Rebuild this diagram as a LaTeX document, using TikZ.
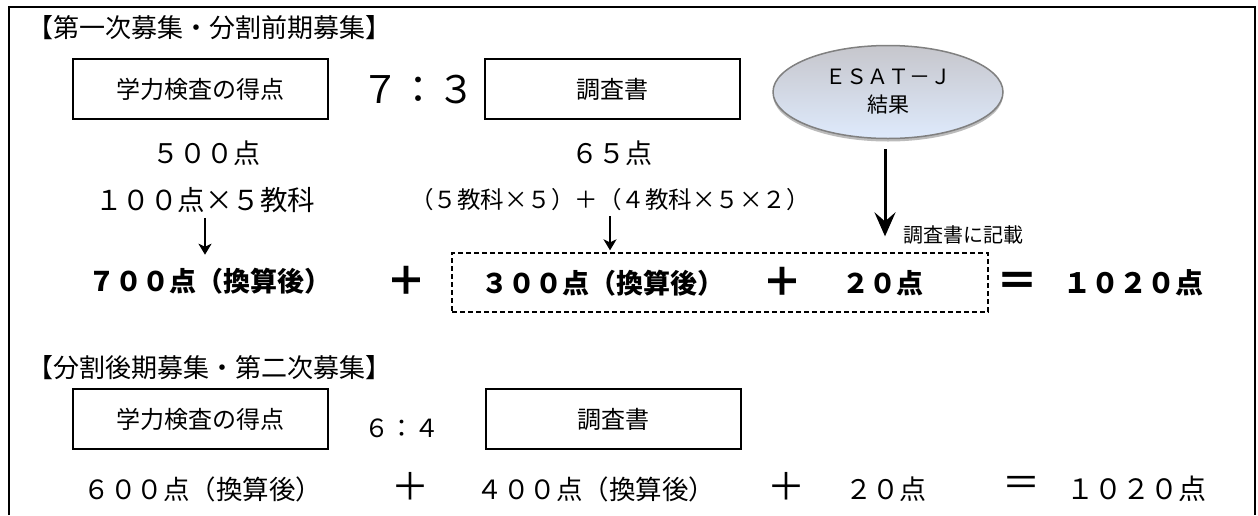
\documentclass[tikz,border=0pt]{standalone}
\usepackage{fontspec}
\newfontfamily\jp{Noto Sans CJK JP}
\usetikzlibrary{arrows.meta,shadows,shapes.geometric,calc}
\tikzset{
  fs/.style={font=\jp\fontsize{#1pt}{#1pt}\selectfont, inner sep=0pt},
  fsb/.style={font=\jp\bfseries\fontsize{#1pt}{#1pt}\selectfont, inner sep=0pt},
  scorebox/.style={draw, line width=2pt, minimum width=255pt, minimum height=60pt, inner sep=0pt, font=\jp\fontsize{24pt}{24pt}\selectfont},
  dashbox/.style={draw, dashed, dash pattern=on 5pt off 3pt, line width=1.3pt, minimum width=536pt, minimum height=59pt, inner sep=0pt},
  thinarrow/.style={line width=2.4pt, -{Stealth[length=11pt,width=13pt,inset=3pt]}},
  bigarrow/.style={line width=3pt, -{Stealth[length=24pt,width=21pt,inset=9pt]}},
  esatstyle/.style={ellipse, draw={rgb,255:red,128;green,128;blue,128}, line width=1.5pt,
    top color={rgb,255:red,198;green,198;blue,204}, bottom color={rgb,255:red,222;green,234;blue,252},
    minimum width=230pt, minimum height=93pt, inner sep=0pt, align=center,
    drop shadow={shadow xshift=0pt, shadow yshift=-3pt, fill={rgb,255:red,120;green,120;blue,120}},
    font=\jp\fontsize{21pt}{26pt}\selectfont},
}
\begin{document}
\begin{tikzpicture}[x=1pt,y=-1pt]
\useasboundingbox (0,0) rectangle (1258,515);
\fill[white] (0,0) rectangle (1258,515);
% outer frame
\draw[line width=2pt] (9,515) -- (9,7) -- (1255,7) -- (1255,515);

% ---- upper section ----
\node[fs=26, anchor=west] (t1) at (27,28) {【第一次募集・分割前期募集】};
\node[scorebox] (b1) at (200.5,89) {学力検査の得点};
\node[fs=38] (r1) at (418,90) {７：３};
\node[scorebox] (b2) at (612.5,89) {調査書};
\node[esatstyle] (esat) at (888,92) {ＥＳＡＴ－Ｊ\\[2pt]結果};

\node[fs=27] (p500) at (206,153) {５００点};
\node[fs=27] (p65) at (612,153) {６５点};
\node[fs=27.5] (n100) at (205,200) {１００点×５教科};
\node[fs=23.5] (nf) at (610,200) {（５教科×５）＋（４教科×５×２）};

\node[fsb=27] (n700) at (210,281) {７００点（換算後）};
\node[fsb=40] (pl1) at (406,281) {＋};
\node[dashbox] (dbox) at (720,282.5) {};
\node[fsb=27] (n300) at (603,283) {３００点（換算後）};
\node[fsb=40] (pl2) at (782,282) {＋};
\node[fsb=27] (n20) at (883,283) {２０点};
\node[fsb=42] (eq1) at (1017,284) {＝};
\node[fs=20, anchor=west] (note) at (903,235) {調査書に記載};
\node[fsb=28] (n1020) at (1133,283) {１０２０点};

\draw[thinarrow, shorten <=5pt, shorten >=13pt] (n100.south) -- (n100.south |- n700.north);
\draw[thinarrow, shorten <=5pt, shorten >=2pt] (nf.south) -- (nf.south |- dbox.north);
\draw[bigarrow, shorten <=10pt, shorten >=16pt] ([xshift=-3pt]esat.south) -- ([xshift=-3pt]esat.south |- dbox.north);

% ---- lower section ----
\node[fs=26, anchor=west] (t2) at (27,368) {【分割後期募集・第二次募集】};
\node[scorebox] (b3) at (200.5,419) {学力検査の得点};
\node[fs=25] (r2) at (402,428) {６：４};
\node[scorebox] (b4) at (613,419) {調査書};

\node[fs=26.5] (n600) at (203,489) {６００点（換算後）};
\node[fs=38] (pl3) at (410,486) {＋};
\node[fs=26.5] (n400) at (596,489) {４００点（換算後）};
\node[fs=38] (pl4) at (786,486) {＋};
\node[fs=27] (n20b) at (886,489) {２０点};
\node[fs=38] (eq2) at (1021,486) {＝};
\node[fs=28] (n1020b) at (1136,489) {１０２０点};
\end{tikzpicture}
\end{document}
